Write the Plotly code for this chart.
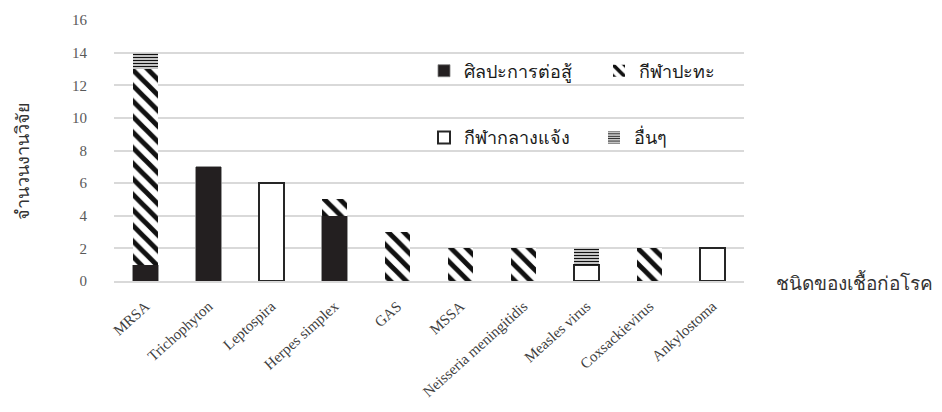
import plotly.graph_objects as go

# Pathogens reported in sports-related infection studies
categories = ["MRSA", "Trichophyton", "Leptospira", "Herpes simplex", "GAS", "MSSA",
              "Neisseria meningitidis", "Measles virus", "Coxsackievirus", "Ankylostoma"]
martial_arts = [1, 7, None, 4, None, None, None, None, None, None]
contact_sports = [12, None, None, 1, 3, 2, 2, None, 2, None]
outdoor_sports = [None, None, 6, None, None, None, None, 1, None, 2]
other_sports = [1, None, None, None, None, None, None, 1, None, None]
y_ticks = [0, 2, 4, 6, 8, 10, 12, 14, 16]

names = ["ศิลปะการต่อสู้", "กีฬาปะทะ", "กีฬากลางแจ้ง", "อื่นๆ"]

W, H = 942, 412
L, R, T, B = 114, 198, 16, 130
PW, PH = W - L - R, H - T - B

def px_x(x):
    return (x - L) / PW

def px_y(y):
    return (H - B - y) / PH

fig = go.Figure()
fig.add_bar(x=categories, y=martial_arts, name=names[0], legend="legend",
            marker=dict(color="#231f20", line=dict(color="#7f7f7f", width=0.8)))
fig.add_bar(x=categories, y=contact_sports, name=names[1], legend="legend2",
            marker=dict(color="white", line=dict(width=0),
                        pattern=dict(shape="\\", fgcolor="#111111", bgcolor="white",
                                     fgopacity=1, size=11, solidity=0.45,
                                     fillmode="replace")))
fig.add_bar(x=categories, y=outdoor_sports, name=names[2], legend="legend3",
            marker=dict(color="white", line=dict(color="#262626", width=2)))
fig.add_bar(x=categories, y=other_sports, name=names[3], legend="legend4",
            marker=dict(color="white", line=dict(width=0),
                        pattern=dict(shape="-", fgcolor="#111111", bgcolor="white",
                                     fgopacity=1, size=3, solidity=0.5,
                                     fillmode="replace")))

thai_font = "Liberation Serif, Noto Sans, serif"
legend_font = dict(family=thai_font, size=18, color="#1a1a1a")
common = dict(bgcolor="rgba(0,0,0,0)", borderwidth=0, font=legend_font,
              xanchor="left", yanchor="middle", orientation="h")

row1, row2 = px_y(68), px_y(136)
fig.update_layout(
    width=W, height=H,
    margin=dict(l=L, r=R, t=T, b=B),
    paper_bgcolor="white", plot_bgcolor="white",
    barmode="stack", bargap=0.59,
    showlegend=True,
    legend=dict(x=px_x(424), y=row1, **common),
    legend2=dict(x=px_x(599), y=row1, **common),
    legend3=dict(x=px_x(424), y=row2, **common),
    legend4=dict(x=px_x(594), y=row2, **common),
    xaxis=dict(tickangle=-42, showgrid=False, ticks="", showline=True,
               linecolor="#d9d9d9", linewidth=1.5, ticklabelstandoff=9,
               tickfont=dict(family="Liberation Serif, serif", size=15, color="#404040")),
    yaxis=dict(range=[0, 16], tickvals=y_ticks, showgrid=True, gridcolor="#d9d9d9",
               gridwidth=1.5, zeroline=False, showline=False, ticks="",
               ticklabelstandoff=26,
               tickfont=dict(family="Liberation Serif, serif", size=15, color="#595959")),
    annotations=[
        dict(text="จำนวนงานวิจัย", xref="paper", yref="paper", x=px_x(23), y=px_y(160),
             textangle=-90, showarrow=False, xanchor="center", yanchor="middle",
             font=dict(family=thai_font, size=18, color="#333333")),
        dict(text="ชนิดของเชื้อก่อโรค", xref="paper", yref="paper", x=px_x(774), y=px_y(283),
             showarrow=False, xanchor="left", yanchor="middle",
             font=dict(family=thai_font, size=19, color="#333333")),
    ],
)

fig.write_html("out.html")
